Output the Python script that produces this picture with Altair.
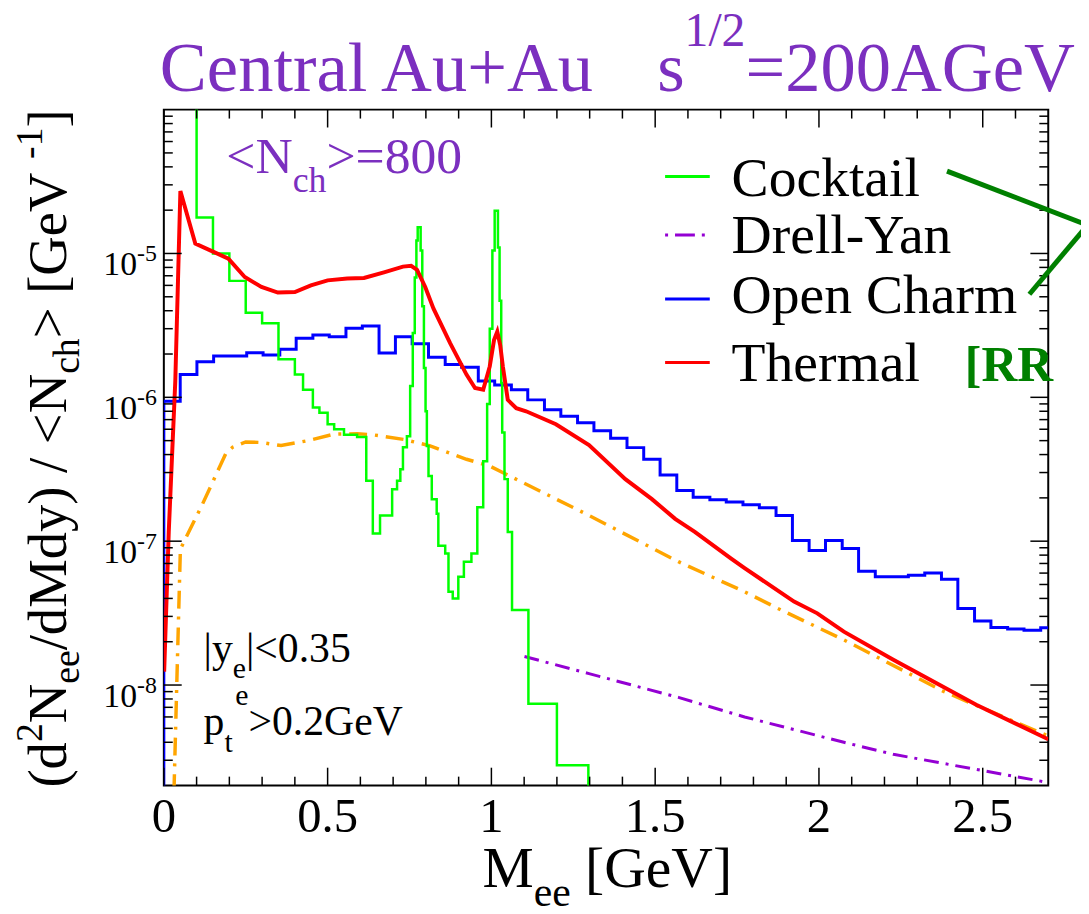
import altair as alt
import pandas as pd

# ------------------------------------------------------------------ data
cocktail_x = [0.05, 0.10, 0.15, 0.20, 0.25, 0.30, 0.35, 0.40, 0.425, 0.455, 0.475, 0.50, 0.52, 0.55, 0.59,
              0.618, 0.638, 0.66, 0.697, 0.712, 0.722, 0.73, 0.742, 0.752, 0.760, 0.766, 0.771, 0.775, 0.784,
              0.789, 0.794, 0.799, 0.803, 0.808, 0.818, 0.833, 0.838, 0.859, 0.869, 0.882, 0.899, 0.916, 0.939,
              0.957, 0.975, 0.987, 0.995, 1.003, 1.010, 1.020, 1.025, 1.030, 1.033, 1.040, 1.050, 1.063, 1.113,
              1.200, 1.296, 1.40]
cocktail_y = [3e-4, 1.78e-5, 1.0e-5, 6.45e-6, 3.87e-6, 3.27e-6, 1.84e-6, 1.44e-6, 1.13e-6, 8.5e-7, 7.8e-7, 6.5e-7,
              6.0e-7, 5.5e-7, 5.3e-7, 2.63e-7, 1.13e-7, 1.51e-7, 2.30e-7, 2.63e-7, 3.16e-7, 4.49e-7, 5.37e-7,
              1.2e-6, 2.8e-6, 6.8e-6, 1.23e-5, 1.52e-5, 1.05e-5, 4.3e-6, 1.6e-6, 8.0e-7, 4.58e-7, 2.84e-7,
              1.96e-7, 1.55e-7, 9.3e-8, 8.2e-8, 4.45e-8, 4.0e-8, 5.65e-8, 7.2e-8, 8.2e-8, 1.72e-7, 3.6e-7,
              9.0e-7, 3.0e-6, 1.05e-5, 1.98e-5, 1.1e-5, 4.7e-6, 1.26e-6, 5.7e-7, 2.7e-7, 1.16e-7, 3.32e-8,
              7.4e-9, 2.77e-9, 1e-10, 1e-10]

charm_x = [0.0, 0.0, 0.050, 0.101, 0.152, 0.202, 0.253, 0.303, 0.354, 0.404, 0.455, 0.505, 0.556, 0.606, 0.657,
           0.707, 0.758, 0.808, 0.859, 0.909, 0.960, 1.010, 1.061, 1.111, 1.162, 1.212, 1.263, 1.313, 1.364,
           1.414, 1.465, 1.515, 1.566, 1.616, 1.667, 1.717, 1.768, 1.818, 1.869, 1.919, 1.970, 2.020, 2.071,
           2.121, 2.172, 2.222, 2.273, 2.323, 2.374, 2.424, 2.475, 2.525, 2.576, 2.626, 2.677, 2.70]
charm_y = [1e-10, 9.4e-7, 1.44e-6, 1.77e-6, 1.94e-6, 1.94e-6, 2.04e-6, 1.97e-6, 2.16e-6, 2.57e-6, 2.71e-6,
           2.64e-6, 3.02e-6, 3.13e-6, 2.03e-6, 2.64e-6, 2.36e-6, 1.9e-6, 1.69e-6, 1.62e-6, 1.3e-6, 1.22e-6,
           1.13e-6, 9.6e-7, 8.2e-7, 7.4e-7, 6.65e-7, 5.85e-7, 5.2e-7, 4.47e-7, 3.71e-7, 2.88e-7, 2.25e-7,
           2.02e-7, 1.94e-7, 1.87e-7, 1.79e-7, 1.71e-7, 1.51e-7, 1.01e-7, 8.6e-8, 1.01e-7, 8.9e-8, 6.18e-8,
           5.65e-8, 5.65e-8, 5.8e-8, 6.0e-8, 5.44e-8, 3.41e-8, 2.79e-8, 2.51e-8, 2.45e-8, 2.4e-8, 2.5e-8, 2.5e-8]

thermal_x = [0.001, 0.015, 0.035, 0.0505, 0.096, 0.15, 0.197, 0.247, 0.298, 0.348, 0.40, 0.449, 0.50, 0.56,
             0.611, 0.672, 0.73, 0.755, 0.773, 0.798, 0.823, 0.874, 0.924, 0.95, 0.975, 0.995, 1.008, 1.018,
             1.027, 1.035, 1.05, 1.076, 1.106, 1.197, 1.298, 1.409, 1.49, 1.561, 1.621, 1.732, 1.773, 1.924,
             1.995, 2.076, 2.227, 2.48, 2.70]
thermal_y = [1.24e-8, 1.16e-7, 1.3e-6, 2.72e-5, 1.17e-5, 1.03e-5, 9.2e-6, 6.86e-6, 5.85e-6, 5.35e-6, 5.4e-6,
             6.0e-6, 6.5e-6, 6.7e-6, 6.75e-6, 7.4e-6, 8.1e-6, 8.2e-6, 7.7e-6, 5.85e-6, 4.15e-6, 2.38e-6,
             1.44e-6, 1.16e-6, 1.13e-6, 1.64e-6, 2.5e-6, 2.86e-6, 2.3e-6, 1.64e-6, 9.6e-7, 8.4e-7, 8.0e-7,
             6.5e-7, 4.65e-7, 2.7e-7, 1.96e-7, 1.43e-7, 1.16e-7, 7.56e-8, 6.5e-8, 3.8e-8, 3.15e-8, 2.35e-8,
             1.5e-8, 7.3e-9, 4.2e-9]

orange_x = [0.028, 0.04, 0.0505, 0.066, 0.116, 0.167, 0.19, 0.21, 0.25, 0.30, 0.358, 0.44, 0.52, 0.59, 0.636,
            0.732, 0.773, 0.813, 0.924, 0.995, 1.045, 1.298, 1.571, 1.773, 1.874, 2.076, 2.379, 2.70]
orange_y = [1.0e-9, 1.12e-8, 8.8e-8, 1.04e-7, 1.77e-7, 3.16e-7, 4.1e-7, 4.5e-7, 4.9e-7, 4.85e-7, 4.62e-7,
            5.0e-7, 5.55e-7, 5.58e-7, 5.5e-7, 5.1e-7, 4.84e-7, 4.6e-7, 3.71e-7, 3.33e-7, 2.92e-7, 1.51e-7,
            7.2e-8, 4.45e-8, 3.41e-8, 2.06e-8, 9.06e-9, 4.42e-9]

drellyan_x = [1.101, 1.298, 1.571, 1.773, 2.076, 2.227, 2.70]
drellyan_y = [1.58e-8, 1.2e-8, 8.2e-9, 6.0e-9, 4.0e-9, 3.3e-9, 2.1e-9]

x_tick_values = [0, 0.5, 1, 1.5, 2, 2.5]
x_tick_labels = ["0", "0.5", "1", "1.5", "2", "2.5"]
x_minor_values = [0.1, 0.2, 0.3, 0.4, 0.6, 0.7, 0.8, 0.9, 1.1, 1.2, 1.3, 1.4, 1.6, 1.7, 1.8, 1.9,
                  2.1, 2.2, 2.3, 2.4, 2.6]
y_decade_values = [1e-8, 1e-7, 1e-6, 1e-5]
y_decade_exps = ["-8", "-7", "-6", "-5"]
y_minor_values = [m * 10.0 ** e for e in range(-9, -4) for m in range(2, 10) if 2.5e-9 < m * 10.0 ** e < 1e-4]

legend_names = ["Cocktail", "Drell-Yan", "Open Charm", "Thermal"]

# ------------------------------------------------------------------ layout
W, H = 891, 681
FONT = "Liberation Serif, Times New Roman, DejaVu Serif, serif"
PURPLE = "#7b2fbf"
XS = alt.Scale(domain=[0, 2.7], nice=False, zero=False)
YS = alt.Scale(type="log", domain=[2e-9, 1e-4], nice=False)
ONE = alt.Data(values=[{"a": 1}])

TW = {'(': 333, ')': 333, 'd': 500, 'N': 722, 'e': 444, '/': 278, 'M': 889, 'y': 500, ' ': 250, '<': 564,
      '>': 564, 'c': 444, 'h': 500, '[': 333, ']': 333, 'G': 722, 'V': 722, '-': 333, '1': 500, '2': 500,
      '=': 564, '0': 500, '8': 500, 'C': 667, 'n': 500, 't': 278, 'r': 333, 'a': 444, 'l': 278, 'A': 722,
      'u': 500, '+': 564, 's': 389, '|': 200, '.': 250, '3': 500, '5': 500, 'p': 500, 'k': 500, 'i': 278,
      'o': 500, 'D': 722, 'Y': 722, 'O': 722, 'T': 611, 'R': 667, 'm': 778}


def tw(s):
    return sum(TW.get(c, 500) for c in s) / 1000.0


def text_layer(text, x, y, size, color="black", angle=0, weight="normal"):
    return alt.Chart(ONE).mark_text(text=text, fontSize=size, font=FONT, color=color, angle=angle,
                                    fontWeight=weight, align="left", baseline="alphabetic").encode(
        x=alt.value(x), y=alt.value(y))


def chain(x0, y0, segs, color="black", angle=0):
    out = []
    pos = x0 if angle == 0 else y0
    for text, size, shift in segs:
        lead = len(text) - len(text.lstrip(" "))
        core = text.strip(" ")
        off = tw(" " * lead) * size
        w = tw(text) * size
        if core:
            if angle == 0:
                out.append(text_layer(core, pos + off, y0 + shift, size, color))
            else:
                out.append(text_layer(core, x0 + shift, pos - off, size, color, angle=270))
        pos = pos + w if angle == 0 else pos - w
    return out


def series(xs, ys, color, width, interp="linear", dash=None):
    df = pd.DataFrame({"x": xs, "y": ys, "i": list(range(len(xs)))})
    kw = dict(color=color, strokeWidth=width, interpolate=interp, clip=True)
    if dash:
        kw["strokeDash"] = dash
    return alt.Chart(df).mark_line(**kw).encode(
        x=alt.X("x:Q", scale=XS, axis=None), y=alt.Y("y:Q", scale=YS, axis=None), order="i:Q")


def yticks(vals, length):
    df = pd.DataFrame({"v": vals})
    base = alt.Chart(df).mark_rule(color="black", strokeWidth=1.5)
    yy = alt.Y("v:Q", scale=YS, axis=None)
    return [base.encode(y=yy, x=alt.value(0), x2=alt.value(length)),
            base.encode(y=yy, x=alt.value(W - length), x2=alt.value(W))]


def xticks(vals, length):
    df = pd.DataFrame({"v": vals})
    base = alt.Chart(df).mark_rule(color="black", strokeWidth=1.5)
    xx = alt.X("v:Q", scale=XS, axis=None)
    return [base.encode(x=xx, y=alt.value(H), y2=alt.value(H - length)),
            base.encode(x=xx, y=alt.value(0), y2=alt.value(length))]


layers = []
# data curves
layers.append(series(orange_x, orange_y, "#ffa500", 3.5, dash=[18, 8, 3, 8]))
layers.append(series(drellyan_x, drellyan_y, "#9400d3", 3, dash=[15, 7, 3, 7]))
layers.append(series(charm_x, charm_y, "#0000ff", 3, interp="step-after"))
layers.append(series(cocktail_x, cocktail_y, "#00ff00", 2.5, interp="step-after"))
layers.append(series(thermal_x, thermal_y, "#ff0000", 4))

# ticks
layers += yticks(y_decade_values, 18)
layers += yticks(y_minor_values, 9)
layers += xticks(x_tick_values, 18)
layers += xticks(x_minor_values, 9)

# y tick labels 10^n
dec_df = pd.DataFrame({"v": y_decade_values, "e": y_decade_exps})
layers.append(alt.Chart(dec_df).mark_text(text="10", fontSize=34, font=FONT, align="right",
                                          baseline="alphabetic", dy=22, color="black").encode(
    y=alt.Y("v:Q", scale=YS, axis=None), x=alt.value(-27)))
layers.append(alt.Chart(dec_df).mark_text(fontSize=24, font=FONT, align="left",
                                          baseline="alphabetic", dy=8, color="black").encode(
    y=alt.Y("v:Q", scale=YS, axis=None), x=alt.value(-27), text="e:N"))

# x tick labels
xl_df = pd.DataFrame({"v": x_tick_values, "t": x_tick_labels})
layers.append(alt.Chart(xl_df).mark_text(fontSize=49, font=FONT, align="center", baseline="alphabetic",
                                         color="black").encode(
    x=alt.X("v:Q", scale=XS, axis=None), y=alt.value(728), text="t:N"))

# axis titles
layers += chain(321, 783, [("M", 58, 0), ("ee", 42, 19), (" [GeV]", 58, 0)])
layers += chain(-99, 683, [("(d", 55, 0), ("2", 38, -24), ("N", 55, 0), ("ee", 38, 14),
                           ("/dMdy) / <N", 55, 0), ("ch", 38, 14), (">  [GeV", 55, 0), ("-1", 38, -24),
                           ("]", 55, 0)], angle=270)

# title
layers += chain(-4, -19, [("Central Au+Au", 71, 0)], color=PURPLE)
layers += chain(497, -19, [("s", 71, 0), ("1/2", 48, -45), ("=200AGeV", 71, 0)], color=PURPLE)

# annotations
layers += chain(63, 64, [("<N", 52, 0), ("ch", 36, 19), (">=800", 52, 0)], color=PURPLE)
layers += chain(40, 556, [("|y", 42, 0), ("e", 30, 17), ("|<0.35", 42, 0)])
layers += chain(40, 630, [("p", 42, 0), ("t", 30, 17)])
layers += chain(72, 630, [("e", 30, -30), (">0.2GeV", 42, 0)])

# legend
leg_y = [67.3, 126.3, 190.7, 254.7]
leg_base = [87.3, 144.7, 204.7, 273.7]
leg_col = ["#00ff00", "#9400d3", "#0000ff", "#ff0000"]
for i, name in enumerate(legend_names):
    kw = dict(color=leg_col[i], strokeWidth=3)
    if name == "Drell-Yan":
        kw["strokeDash"] = [3, 7, 20, 7]
    layers.append(alt.Chart(ONE).mark_rule(**kw).encode(
        x=alt.value(505), x2=alt.value(550), y=alt.value(leg_y[i])))
    layers += chain(572, leg_base[i], [(name, 56, 0)])

layers.append(text_layer("[RR", 807, 273, 50, color="#008000", weight="bold"))
layers.append(alt.Chart(ONE).mark_rule(color="#008000", strokeWidth=5).encode(
    x=alt.value(789), y=alt.value(62), x2=alt.value(935), y2=alt.value(118)))
layers.append(alt.Chart(ONE).mark_rule(color="#008000", strokeWidth=5).encode(
    x=alt.value(872), y=alt.value(186), x2=alt.value(935), y2=alt.value(111)))

chart = alt.layer(*layers).properties(
    width=W, height=H,
    autosize=alt.AutoSizeParams(type="none"),
    padding={"left": 157, "top": 99, "right": 33, "bottom": 126},
).configure_view(stroke="black", strokeWidth=2)

chart.save("out.html", embed_options={"renderer": "svg", "actions": False})
